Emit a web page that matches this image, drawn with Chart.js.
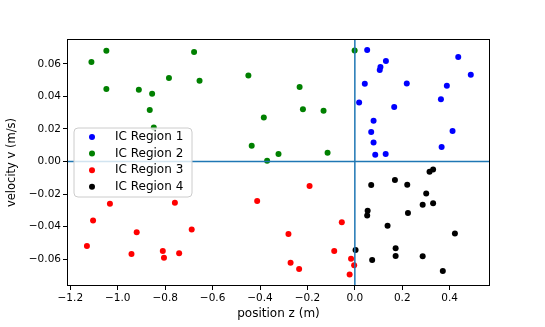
<!DOCTYPE html>
<html>
<head>
<meta charset="utf-8">
<script src="https://cdn.jsdelivr.net/npm/chart.js@4/dist/chart.umd.min.js"></script>
<style>
  html, body { margin: 0; padding: 0; background: #fff; }
  #wrap { width: 545px; height: 327px; }
</style>
</head>
<body>
<div id="wrap"><canvas id="phase" width="545" height="327"></canvas></div>
<script>
// values
const seriesLabels = ['IC Region 1', 'IC Region 2', 'IC Region 3', 'IC Region 4'];
const seriesColors = ['#0000ff', '#008000', '#ff0000', '#000000'];

const region1Z = [0.052, 0.131, 0.108, 0.105, 0.436, 0.489, 0.042, 0.219, 0.388, 0.018, 0.363, 0.166, 0.079, 0.069, 0.412, 0.079, 0.366, 0.086, 0.130];
const region1V = [0.0686, 0.0618, 0.0581, 0.0562, 0.0642, 0.0534, 0.0478, 0.0480, 0.0466, 0.0363, 0.0382, 0.0335, 0.0250, 0.0181, 0.0187, 0.0117, 0.0089, 0.0041, 0.0047];

const region2Z = [-1.111, -1.048, -0.678, -0.784, -0.655, -1.048, -0.911, -0.855, -0.865, -0.848, -0.001, -0.449, -0.233, -0.219, -0.384, -0.132, -0.435, -0.322, -0.370, -0.115];
const region2V = [0.0612, 0.0681, 0.0673, 0.0513, 0.0497, 0.0446, 0.0441, 0.0417, 0.0316, 0.0209, 0.0683, 0.0529, 0.0458, 0.0322, 0.0271, 0.0312, 0.0097, 0.0047, 0.0004, 0.0054];

const region3Z = [-1.033, -0.759, -1.104, -0.920, -0.688, -1.130, -0.942, -0.810, -0.805, -0.741, -0.191, -0.412, -0.055, -0.280, -0.087, -0.016, -0.003, -0.271, -0.235, -0.022];
const region3V = [-0.0260, -0.0254, -0.0363, -0.0434, -0.0418, -0.0519, -0.0568, -0.0550, -0.0591, -0.0564, -0.0150, -0.0242, -0.0373, -0.0445, -0.0550, -0.0597, -0.0638, -0.0622, -0.0660, -0.0695];

const region4Z = [0.315, 0.330, 0.069, 0.169, 0.221, 0.301, 0.286, 0.330, 0.054, 0.052, 0.224, 0.138, 0.422, 0.003, 0.172, 0.172, 0.286, 0.073, 0.371];
const region4V = [-0.0063, -0.0049, -0.0145, -0.0113, -0.0143, -0.0197, -0.0265, -0.0256, -0.0302, -0.0332, -0.0316, -0.0394, -0.0443, -0.0544, -0.0533, -0.0580, -0.0582, -0.0605, -0.0673];

const xTicks = [-1.2, -1.0, -0.8, -0.6, -0.4, -0.2, 0.0, 0.2, 0.4];
const yTicks = [-0.06, -0.04, -0.02, 0.00, 0.02, 0.04, 0.06];

const allZ = [region1Z, region2Z, region3Z, region4Z];
const allV = [region1V, region2V, region3V, region4V];

const FONT = "'DejaVu Sans', sans-serif";
const minus = s => s.replace('-', '\u2212');

// zero lines, frame and the boxed legend sitting inside the axes
const overlay = {
  id: 'overlay',
  afterDatasetsDraw(chart) {
    const ctx = chart.ctx;
    const a = chart.chartArea;
    const xs = chart.scales.x, ys = chart.scales.y;

    ctx.save();
    ctx.strokeStyle = '#1f77b4';
    ctx.lineWidth = 1.5;
    const y0 = ys.getPixelForValue(0);
    const x0 = xs.getPixelForValue(0);
    ctx.beginPath();
    ctx.moveTo(a.left, y0); ctx.lineTo(a.right, y0);
    ctx.moveTo(x0, a.top); ctx.lineTo(x0, a.bottom);
    ctx.stroke();

    ctx.strokeStyle = '#000';
    ctx.lineWidth = 1;
    ctx.strokeRect(a.left + 0.5, a.top + 0.5, a.right - a.left - 1, a.bottom - a.top - 1);

    // legend box
    const bx = 74, by = 128, bw = 118, bh = 69, r = 4;
    ctx.beginPath();
    ctx.moveTo(bx + r, by);
    ctx.arcTo(bx + bw, by, bx + bw, by + bh, r);
    ctx.arcTo(bx + bw, by + bh, bx, by + bh, r);
    ctx.arcTo(bx, by + bh, bx, by, r);
    ctx.arcTo(bx, by, bx + bw, by, r);
    ctx.closePath();
    ctx.fillStyle = 'rgba(255,255,255,0.8)';
    ctx.fill();
    ctx.strokeStyle = '#cccccc';
    ctx.stroke();

    ctx.font = '12px ' + FONT;
    ctx.textBaseline = 'middle';
    ctx.textAlign = 'left';
    seriesLabels.forEach((lab, i) => {
      const cy = by + 9 + i * 16.6;
      ctx.fillStyle = seriesColors[i];
      ctx.beginPath();
      ctx.arc(bx + 18, cy, 3, 0, Math.PI * 2);
      ctx.fill();
      ctx.fillStyle = '#000';
      ctx.fillText(lab, bx + 41, cy);
    });
    ctx.restore();
  }
};

new Chart(document.getElementById('phase'), {
  type: 'scatter',
  data: {
    datasets: seriesLabels.map((lab, i) => ({
      label: lab,
      data: allZ[i].map((z, k) => ({ x: z, y: allV[i][k] })),
      backgroundColor: seriesColors[i],
      borderWidth: 0,
      pointRadius: 3,
      pointHoverRadius: 3
    }))
  },
  options: {
    responsive: false,
    animation: false,
    devicePixelRatio: 1,
    layout: { padding: { top: 39, right: 55, left: 0, bottom: 0 } },
    plugins: { legend: { display: false }, tooltip: { enabled: false } },
    scales: {
      x: {
        type: 'linear',
        min: -1.214,
        max: 0.57,
        afterBuildTicks: s => { s.ticks = xTicks.map(v => ({ value: v })); },
        afterFit: s => { s.height = 41; },
        grid: { drawOnChartArea: false, tickLength: 4, tickColor: '#000' },
        border: { display: false },
        ticks: {
          color: '#000', padding: 2, maxRotation: 0, autoSkip: false,
          font: { family: FONT, size: 10.5 },
          callback: v => minus(v.toFixed(1))
        },
        title: {
          display: true, text: 'position z (m)', color: '#000',
          font: { family: FONT, size: 12 }, padding: { top: 0, bottom: 6 }
        }
      },
      y: {
        type: 'linear',
        min: -0.0765,
        max: 0.0753,
        afterBuildTicks: s => { s.ticks = yTicks.map(v => ({ value: v })); },
        afterFit: s => { s.width = 67; },
        grid: { drawOnChartArea: false, tickLength: 4, tickColor: '#000' },
        border: { display: false },
        ticks: {
          color: '#000', padding: 2, autoSkip: false,
          font: { family: FONT, size: 10.5 },
          callback: v => minus(v.toFixed(2))
        },
        title: {
          display: true, text: 'velocity v (m/s)', color: '#000',
          font: { family: FONT, size: 11.5 }, padding: { top: 5, bottom: 0 }
        }
      }
    }
  },
  plugins: [overlay]
});
</script>
</body>
</html>
